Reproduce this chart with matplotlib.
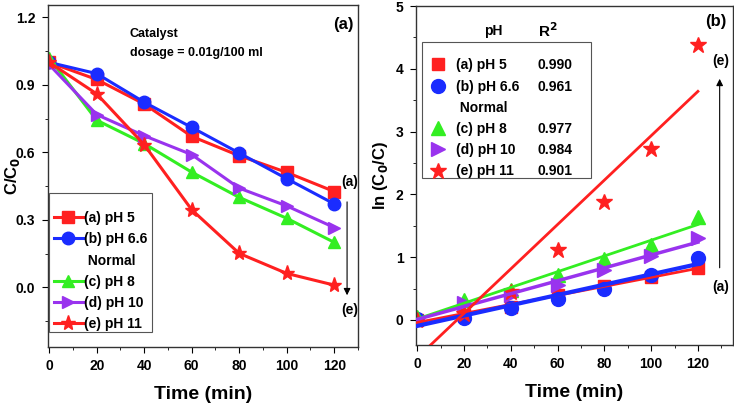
import numpy as np
import matplotlib
matplotlib.use('Agg')
import matplotlib.pyplot as plt
from matplotlib.lines import Line2D
from matplotlib.patches import Rectangle

plt.rcParams['font.family'] = ['Liberation Sans', 'DejaVu Sans']
plt.rcParams['font.weight'] = 'bold'
plt.rcParams['axes.labelweight'] = 'bold'
plt.rcParams['mathtext.default'] = 'bf'

# 数据
time = [0, 20, 40, 60, 80, 100, 120]
labels = ['(a) pH 5', '(b) pH 6.6', '(c) pH 8', '(d) pH 10', '(e) pH 11']
r2 = ['0.990', '0.961', '0.977', '0.984', '0.901']

# C/C0
c_ph5 = [1.0, 0.924, 0.815, 0.671, 0.585, 0.511, 0.426]
c_ph66 = [1.0, 0.95, 0.823, 0.711, 0.597, 0.483, 0.371]
c_ph8 = [1.02, 0.743, 0.639, 0.512, 0.40, 0.307, 0.20]
c_ph10 = [0.99, 0.768, 0.674, 0.59, 0.441, 0.362, 0.266]
c_ph11 = [1.0, 0.86, 0.634, 0.345, 0.151, 0.062, 0.01]

# ln(C0/C)
ln_ph5 = [0.0, 0.08, 0.2, 0.4, 0.54, 0.68, 0.83]
ln_ph66 = [0.02, 0.03, 0.19, 0.33, 0.5, 0.72, 0.99]
ln_ph8 = [0.05, 0.32, 0.48, 0.71, 0.97, 1.2, 1.64]
ln_ph10 = [0.02, 0.27, 0.4, 0.55, 0.8, 1.02, 1.3]
ln_ph11 = [0.0, 0.1, 0.45, 1.11, 1.87, 2.72, 4.38]

colors = ['#ff2020', '#1a2cff', '#33ee22', '#9933ee', '#ff2020']
markers = ['s', 'o', '^', '>', '*']
msizes = [8, 9, 9, 9, 11]

fig = plt.figure(figsize=(7.34, 4.04), dpi=100)
ax1 = fig.add_axes([48/734, 1-347/404, 310/734, 342/404])
ax2 = fig.add_axes([416/734, 1-345/404, 317/734, 339/404])

# ---- (a) ----
series = [c_ph5, c_ph66, c_ph8, c_ph10, c_ph11]
handles = []
for i, y in enumerate(series):
    h, = ax1.plot(time, y, color=colors[i], marker=markers[i], ms=msizes[i], lw=2.2,
                  label=labels[i])
    handles.append(h)
blank = Line2D([], [], linestyle='none', marker='none')
leg_h = handles[:2] + [blank] + handles[2:]
leg_l = labels[:2] + [' Normal'] + labels[2:]
ax1.legend(leg_h, leg_l, loc='lower left', bbox_to_anchor=(0.003, 0.032), fontsize=10,
           handlelength=2.1, handletextpad=0.1, labelspacing=0.52, borderpad=0.35,
           frameon=False, borderaxespad=0)
ax1.add_patch(Rectangle((0.003, 0.044), 0.332, 0.406, transform=ax1.transAxes,
                        facecolor='white', edgecolor='#555555', lw=0.8, zorder=4))

ax1.set_xlim(-0.5, 130)
ax1.set_ylim(-0.265, 1.255)
ax1.set_xticks([0, 20, 40, 60, 80, 100, 120])
ax1.set_xticks(np.arange(0, 131, 10), minor=True)
ax1.set_yticks([0.0, 0.3, 0.6, 0.9, 1.2])
ax1.set_yticks([-0.15, 0.15, 0.45, 0.75, 1.05], minor=True)
ax1.set_xlabel('Time (min)', fontsize=14, labelpad=9)
ax1.set_ylabel('C/C$_0$', fontsize=12)
ax1.yaxis.set_label_coords(-0.085, 0.5)
ax1.text(34, 1.126, 'Catalyst', fontsize=9, va='center')
ax1.text(34, 1.04, 'dosage = 0.01g/100 ml', fontsize=9, va='center')
ax1.text(124, 1.17, '(a)', fontsize=12, ha='center', va='center')
ax1.text(126.5, 0.467, '(a)', fontsize=10, ha='center', va='center')
ax1.text(126.5, -0.10, '(e)', fontsize=10, ha='center', va='center')
ax1.annotate('', xy=(125.4, -0.035), xytext=(125.4, 0.38),
             arrowprops=dict(arrowstyle='-|>', color='black', lw=0.8, mutation_scale=10,
                             shrinkA=0, shrinkB=0))

# ---- (b) ----
lnseries = [ln_ph5, ln_ph66, ln_ph8, ln_ph10, ln_ph11]
lws = [2, 3, 2, 2.5, 2]
pts = []
for i, y in enumerate(lnseries):
    p, = ax2.plot(time, y, linestyle='none', color=colors[i], marker=markers[i],
                  ms=msizes[i] + 1, zorder=2)
    pts.append(p)
    k, b = np.polyfit(time, y, 1)
    xx = np.array([0, 120])
    ax2.plot(xx, k * xx + b, color=colors[i], lw=lws[i], zorder=3)

inv = Line2D([], [], linestyle='none', marker='none')
col1_h = pts[:2] + [inv] + pts[2:]
col1_l = labels[:2] + [' Normal'] + labels[2:]
col2_h = [inv] * 6
col2_l = r2[:2] + [''] + r2[2:]
ax2.legend(col1_h + col2_h, col1_l + col2_l, ncol=2, loc='upper left',
           bbox_to_anchor=(0.018, 0.862), fontsize=10, handlelength=1.6,
           handletextpad=0.5, labelspacing=0.52, columnspacing=-0.85,
           borderpad=0.4, frameon=False, borderaxespad=0)
# 图例外框
ax2.add_patch(Rectangle((0.018, 0.493), 0.534, 0.401, transform=ax2.transAxes,
                        fill=False, edgecolor='#555555', lw=0.8, zorder=5))

ax2.set_xlim(-0.5, 135)
ax2.set_ylim(-0.4, 5)
ax2.set_xticks([0, 20, 40, 60, 80, 100, 120])
ax2.set_xticks(np.arange(0, 131, 10), minor=True)
ax2.set_yticks([0, 1, 2, 3, 4, 5])
ax2.set_yticks([0.5, 1.5, 2.5, 3.5, 4.5], minor=True)
ax2.set_xlabel('Time (min)', fontsize=14, labelpad=9)
ax2.set_ylabel('ln (C$_0$/C)', fontsize=12, labelpad=4)
ax2.text(32.6, 4.6, 'pH', fontsize=10, ha='center', va='center')
ax2.text(56, 4.6, 'R$^2$', fontsize=11, ha='center', va='center')
ax2.text(127.5, 4.75, '(b)', fontsize=12, ha='center', va='center')
ax2.text(129.6, 4.13, '(e)', fontsize=10, ha='center', va='center')
ax2.text(129.6, 0.53, '(a)', fontsize=10, ha='center', va='center')
ax2.annotate('', xy=(129.3, 3.84), xytext=(129.3, 0.83),
             arrowprops=dict(arrowstyle='-|>', color='black', lw=0.8, mutation_scale=10,
                             shrinkA=0, shrinkB=0))

for ax in (ax1, ax2):
    ax.tick_params(which='both', direction='out', top=False, right=False)
    ax.tick_params(which='major', length=4, labelsize=10, pad=5)
    ax.tick_params(which='minor', length=2.5)
    for s in ax.spines.values():
        s.set_linewidth(1.0)
        s.set_color('#333333')

fig.savefig('out.png', dpi=100)
